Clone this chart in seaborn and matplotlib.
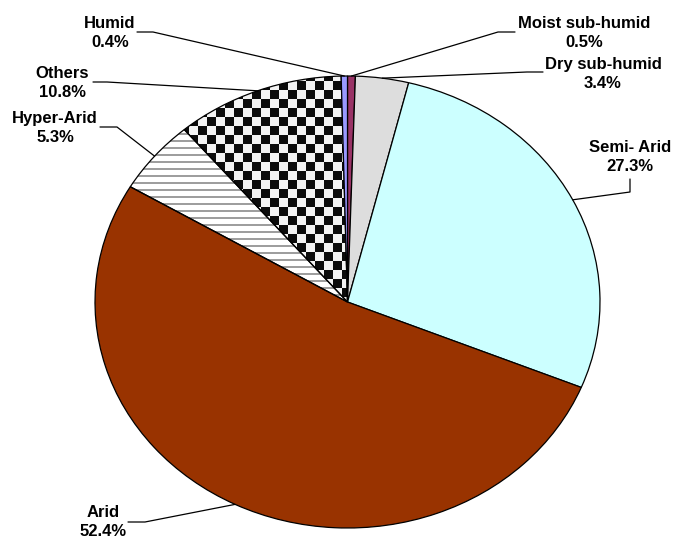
import numpy as np
import matplotlib
matplotlib.use('Agg')
import matplotlib.pyplot as plt
import seaborn as sns

# share of area by aridity zone, clockwise from 12 o'clock
zones = ['Moist sub-humid', 'Dry sub-humid', 'Semi- Arid', 'Arid',
         'Hyper-Arid', 'Others', 'Humid']
shares = [0.5, 3.4, 27.3, 52.4, 5.3, 10.8, 0.4]
share_labels = ['0.5%', '3.4%', '27.3%', '52.4%', '5.3%', '10.8%', '0.4%']
fills = ['#993366', '#DDDDDD', '#CCFFFF', '#993300', 'none', 'none', '#9999FF']

# label layout in figure pixels: text centre, leader start, leader elbow
lab_pos = [(584, 33), (603, 74), (630, 157), (103, 522), (55, 128), (62, 83), (110, 33)]
lead_start = [(515, 32), (543, 72), (630, 179), (128, 522), (100, 127), (93, 82), (137, 32)]
lead_elbow = [(498, 32), (527, 72), (630, 192), (145, 522), (117, 127), (107, 82), (153, 32)]

W, H = 676, 541
CX, CY, RX, RY = 347.5, 302, 252.5, 226


def to_data(p):
    return ((p[0] - CX) / RX, (CY - p[1]) / RY)


sns.set_theme(style='white')
plt.rcParams['font.family'] = ['Liberation Sans', 'DejaVu Sans']

fig = plt.figure(figsize=(W / 100, H / 100), dpi=100)
ax = fig.add_axes([0, 0, 1, 1])

wedges, _ = ax.pie(shares, colors=['white'] * len(shares), startangle=90,
                   counterclock=False, radius=1,
                   wedgeprops=dict(edgecolor='black', linewidth=0.9))
for w, c in zip(wedges, fills):
    w.set_facecolor(c)

x0, x1 = -CX / RX, (W - CX) / RX
y0, y1 = (CY - H) / RY, CY / RY

# textures for the patterned slices, one array cell per screen pixel
yy, xx = np.mgrid[0:H, 0:W]
checker = np.where((yy // 9 + xx // 9) % 2 == 1, 0.95, 0.05)
im1 = ax.imshow(checker, cmap='gray', vmin=0, vmax=1, extent=(x0, x1, y0, y1),
                origin='upper', interpolation='nearest', zorder=0.5, aspect='auto')
im1.set_clip_path(wedges[5])

stripes = np.where(yy % 7 < 2, 0.62, 1.0)
im2 = ax.imshow(stripes, cmap='gray', vmin=0, vmax=1, extent=(x0, x1, y0, y1),
                origin='upper', interpolation='nearest', zorder=0.5, aspect='auto')
im2.set_clip_path(wedges[4])

ax.set_aspect('auto')
ax.set_xlim(x0, x1)
ax.set_ylim(y0, y1)
ax.axis('off')

# labels and leader lines to each slice's mid angle
total = sum(shares)
cum = np.cumsum([0] + shares[:-1])
for i, name in enumerate(zones):
    mid = np.deg2rad(90 - 360 * (cum[i] + shares[i] / 2) / total)
    edge = (np.cos(mid), np.sin(mid))
    s = to_data(lead_start[i])
    e = to_data(lead_elbow[i])
    ax.plot([s[0], e[0], edge[0]], [s[1], e[1], edge[1]], color='black',
            linewidth=0.9, zorder=3)
    tx, ty = to_data(lab_pos[i])
    ax.text(tx, ty, name + '\n' + share_labels[i], ha='center', va='center',
            multialignment='center', fontsize=12, fontweight='bold',
            linespacing=1.3, color='black')

fig.savefig('out.png', dpi=100)
